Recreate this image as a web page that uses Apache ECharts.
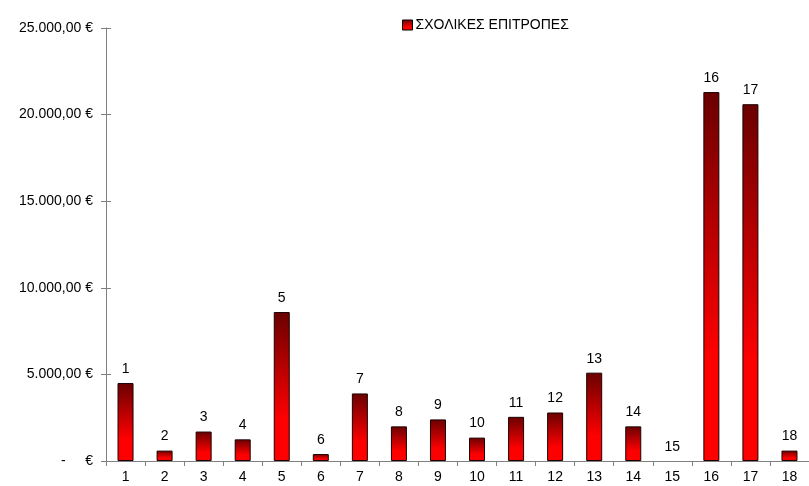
<!DOCTYPE html>
<html><head><meta charset="utf-8">
<script src="https://cdn.jsdelivr.net/npm/echarts@6/dist/echarts.min.js"></script>
<style>html,body{margin:0;padding:0;background:#fff}#c{width:809px;height:486px}</style>
</head><body><div id="c"></div>
<script>
const categories = ['1','2','3','4','5','6','7','8','9','10','11','12','13','14','15','16','17','18'];
const values = [4500, 600, 1700, 1250, 8600, 400, 3900, 2000, 2400, 1350, 2550, 2800, 5100, 2000, 0, 21300, 20600, 600];
const seriesName = 'ΣΧΟΛΙΚΕΣ ΕΠΙΤΡΟΠΕΣ';

function fmt(v){
  if (v === 0) return '-     €';
  const s = Math.round(v).toString().replace(/\B(?=(\d{3})+(?!\d))/g, '.');
  return s + ',00 €';
}
const grad = new echarts.graphic.LinearGradient(0,0,0,1,[
  {offset:0,color:'#6a0000'},{offset:0.72,color:'#ff0000'},{offset:1,color:'#ff0000'}]);
const FONT = 'Liberation Sans, Arial, sans-serif';
const chart = echarts.init(document.getElementById('c'), null, {renderer:'canvas'});
chart.setOption({
  animation:false,
  textStyle:{fontFamily:FONT},
  legend:{
    data:[{name:seriesName,icon:'rect'}], left:397, top:13, itemWidth:10, itemHeight:10, itemGap:4,
    textStyle:{fontSize:14,color:'#000',fontFamily:FONT,padding:[0,0,0,-2]},
    itemStyle:{borderColor:'#000',borderWidth:1}
  },
  grid:{left:106, top:28, bottom:25, right:-11, containLabel:false},
  xAxis:{
    type:'category', data:categories, boundaryGap:true,
    axisLine:{lineStyle:{color:'#808080',width:1}},
    axisTick:{show:true,length:5,lineStyle:{color:'#808080'}},
    axisLabel:{color:'#000',fontSize:14,margin:9,interval:0}
  },
  yAxis:[{
    type:'value', min:0, max:25000, interval:5000,
    axisLine:{show:true,lineStyle:{color:'#808080',width:1}},
    axisTick:{show:true,length:5,lineStyle:{color:'#808080'}},
    splitLine:{show:false},
    axisLabel:{color:'#000',fontSize:14,margin:13,formatter:fmt}
  },{
    type:'value', min:0, max:25000, interval:5000, position:'left',
    axisLine:{show:false},
    axisTick:{show:true,inside:true,length:5,lineStyle:{color:'#808080'}},
    splitLine:{show:false}, axisLabel:{show:false}
  }],
  series:[{
    name:seriesName, type:'bar', barWidth:16,
    data:values.map(v => v === 0 ? {value:v,itemStyle:{borderWidth:0}} : v),
    itemStyle:{color:grad,borderColor:'#1a0000',borderWidth:1},
    label:{show:true,position:'top',distance:7,color:'#000',fontSize:14,
      formatter:p=>categories[p.dataIndex]}
  }]
});
</script></body></html>
